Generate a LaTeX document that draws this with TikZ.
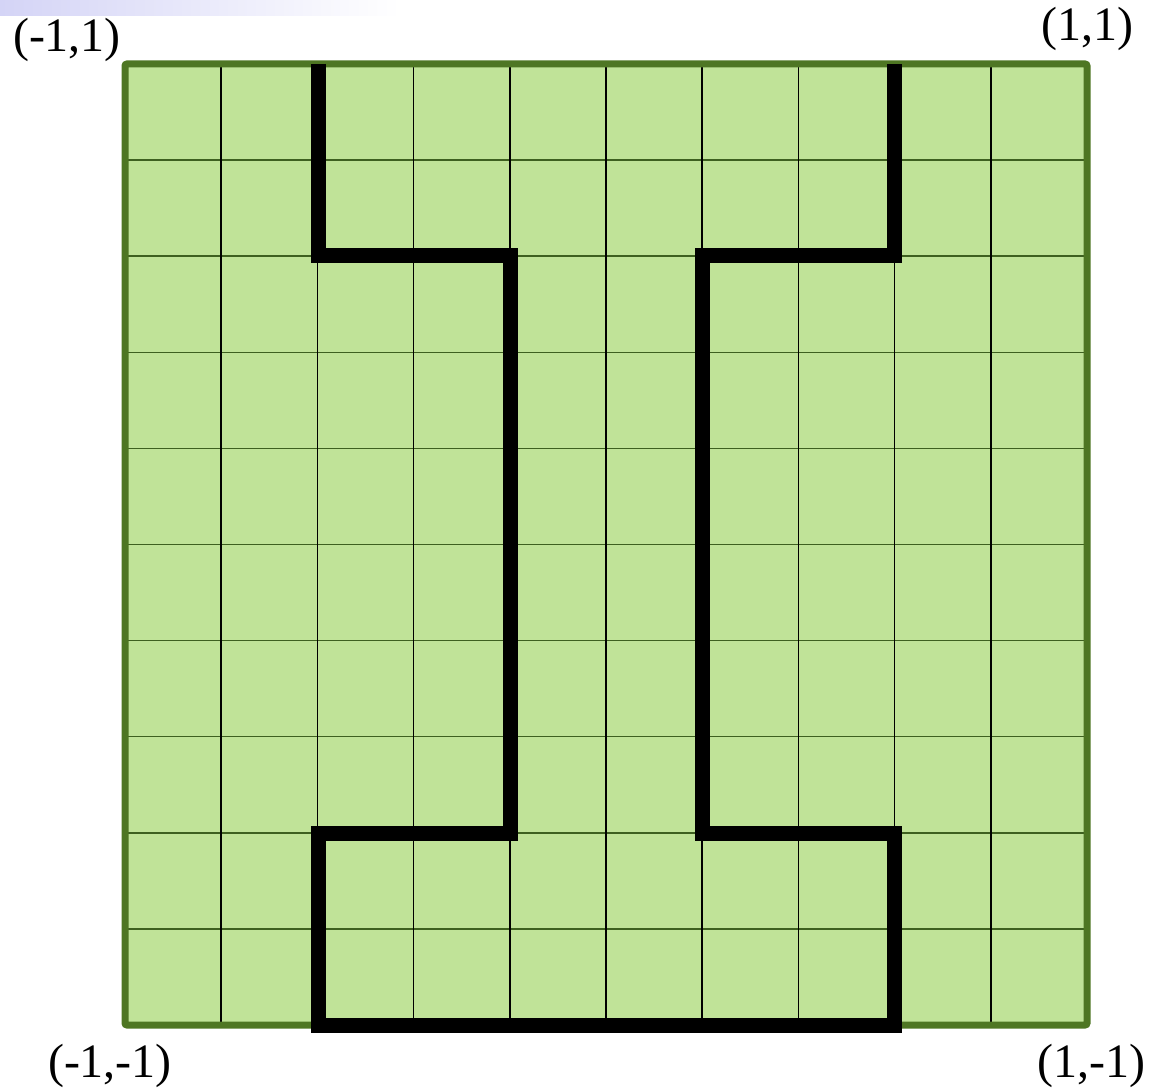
\documentclass[tikz,border=0pt]{standalone}
\usepackage{fontspec}
\setmainfont{Liberation Serif}
\definecolor{cellfill}{HTML}{C0E398}
\definecolor{frame}{HTML}{4E7623}
\definecolor{hgrid}{HTML}{3E6020}
\definecolor{bar}{HTML}{D4D4F6}
\tikzset{
  lbl/.style={font=\fontsize{24}{27}\selectfont, inner sep=0pt},
  gridv/.style={black, line width=0.75pt},
  gridh/.style={hgrid, line width=0.75pt},
  wall/.style={black, line width=7.5pt, line join=miter},
}
\begin{document}
\begin{tikzpicture}[x=0.5pt, y=-0.5pt]
\useasboundingbox (0,0) rectangle (1155,1090);
% decorative bar
\shade[left color=bar, right color=white] (0,0) rectangle (400,16);
% square
\coordinate (tl) at (125,64);
\coordinate (br) at (1087,1025);
\fill[cellfill] (tl) rectangle (br);
\foreach \i in {1,...,9} {
  \draw[gridh] (125,{64+96.1*\i}) -- (1087,{64+96.1*\i});
}
\foreach \i in {1,...,9} {
  \draw[gridv] ({125+96.2*\i},64) -- ({125+96.2*\i},1025);
}
\draw[frame, line width=3.5pt, rounded corners=1pt] (tl) rectangle (br);
% thick path
\draw[wall] (318,64) -- (318,256) -- (510,256) -- (510,833) -- (318,833) -- (318,1025)
  -- (894,1025) -- (894,833) -- (702,833) -- (702,256) -- (894,256) -- (894,64);
% labels
\node[lbl] (ltl) at (67,40) {(-1,1)};
\node[lbl] (ltr) at (1087,29) {(1,1)};
\node[lbl] (lbl) at (110,1066) {(-1,-1)};
\node[lbl] (lbr) at (1091,1066) {(1,-1)};
\end{tikzpicture}
\end{document}
